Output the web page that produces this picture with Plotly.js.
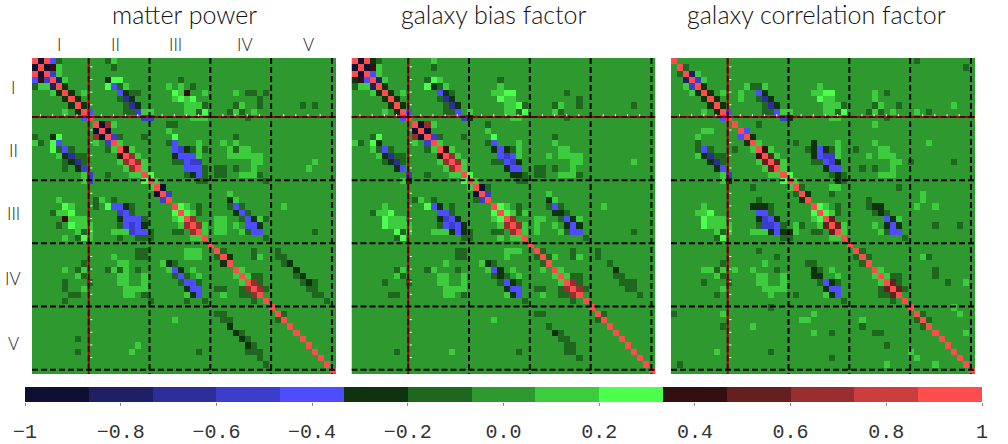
<!DOCTYPE html>
<html>
<head>
<meta charset="utf-8">
<script src="https://cdn.plot.ly/plotly-3.0.1.min.js"></script>
<style>html,body{margin:0;padding:0;background:#fff}</style>
</head>
<body>
<div id="chart" style="width:1008px;height:444px"></div>
<script>
//15 colour levels, a..o, "." cells are the base level h
const levelColors = ['#0f0f33','#1f1f66','#2e2e99','#3d3dcc','#4d4dff','#0f330f','#1f661f','#2e992e','#3dcc3d','#4dff4d','#330f0f','#661f1f','#992e2e','#cc3d3d','#ff4d4d'];
const levelValues = [-0.933,-0.8,-0.667,-0.533,-0.4,-0.267,-0.133,0,0.133,0.267,0.4,0.533,0.667,0.8,0.933];
const levelEdges = [-1,-0.867,-0.733,-0.6,-0.467,-0.333,-0.2,-0.067,0.067,0.2,0.333,0.467,0.6,0.733,0.867,1];

const panelTitles = ['matter power','galaxy bias factor','galaxy correlation factor'];
const binLabels = ['I','II','III','IV','V'];
const barTicks = [-1,-0.8,-0.6,-0.4,-0.2,0,0.2,0.4,0.6,0.8,1];
const barTickText = ['\u22121','\u22120.8','\u22120.6','\u22120.4','\u22120.2','0.0','0.2','0.4','0.6','0.8','1'];

//upper triangle of each symmetric matrix: one string per row, "startcolumn:levels"
const matterPower = [
 '0:oaoeg,12:gi','1:oaki,13:g','2:odi','3:obi,12:fjj,24:g','4:of,12:jegi,22:i,24:i,26:g',
 '5:of,8:i,14:efgg,23:jik,28:i,33:i,35:gg,38:g','6:of,14:gcf,23:ijij,37:g','7:of,15:gcf,25:iiig,33:gi,37:g,44:g,46:g','8:oe,15:ggdii,25:iigj,32:gig,36:i','9:o,18:dd,26:iii,35:g',
 '10:oami,22:gg','11:oa,22:i','12:odg,18:g,23:j,33:g','13:oi,22:ge,27:i,31:i,33:i','14:oki,23:edfgig,32:i,33:g,34:ii',
 '15:omi,23:feeei,32:iiiiii','16:omi,23:gg,25:edd,36:ii,46:i','17:oi,25:eee,28:g,30:gg,33:g,36:i,45:i','18:oj,25:gfeg,30:gg,34:iii,37:g','19:oi,27:gg,38:g',
 '20:oa','21:od,32:i','22:o,32:f,33:i','23:oji,27:g,32:geg,41:i','24:oji,27:g,33:feg',
 '25:om,30:ii,34:gefi,38:g','26:om,28:i,30:ii,33:i,35:eef','27:oi,30:ii,34:ig,36:ee,46:g','28:o,38:g','29:o',
 '30:og,36:g,40:g','31:of,36:g,37:i,40:gg','32:o,41:gf','33:oi,43:f','34:oi,36:gg,43:gf',
 '35:om,37:g,44:gfg','36:om,38:g,45:gg','37:o,46:gg','38:o,48:g','39:o',
 '40:og','41:o','42:o','43:o','44:o','45:o','46:o','47:o','48:o','49:o'
];
const galaxyBias = [
 '0:oaofg,13:i','1:oaki,13:g','2:oei','3:obi,12:gji,24:g','4:of,12:jfgi,24:i',
 '5:of,8:i,14:efg,23:iijj,35:g','6:of,14:gcf,24:jii,37:g','7:of,15:gcf,25:iijg,33:gi,37:g,46:g','8:oe,15:gge,19:i,25:iigj,33:ig','9:o,18:df,26:ii,35:g',
 '10:oami,22:g','11:oa,22:i','12:odg,18:g,23:j,33:g','13:oi,22:ge,27:i,33:i','14:oki,23:fefgi,34:ii',
 '15:omi,24:edei,32:i,34:iiii','16:omi,23:gg,25:edf,36:ii,46:i','17:oi,25:fee,30:gg,33:g,36:i','18:oj,26:ffg,30:gg,34:iii,37:g','19:oi,27:gg',
 '20:oag','21:od,32:i','22:o,32:f,33:i','23:oji,27:g,32:geg,41:i','24:oji,27:gi,33:ffg',
 '25:om,30:ii,34:gefi','26:om,28:i,30:i,33:i,35:fef','27:oi,30:i,34:ig,36:ee,46:g','28:o,38:g','29:o',
 '30:og,36:g,40:g','31:og,33:i,36:g,37:i,40:g','32:o,42:g','33:oi,43:f','34:oi,36:gg,43:gg',
 '35:om,37:g,44:ggg','36:om,38:g,45:gg','37:o,47:g','38:o','39:o',
 '40:og','41:o','42:o','43:o','44:o','45:o','46:o','47:o','48:o','49:o'
];
const galaxyCorrelation = [
 '0:o,40:g','1:og,48:g','2:obi','3:odi','4:of,12:iggi,24:i',
 '5:of,8:i,11:i,14:ef,23:iijj,33:i,35:g','6:of,11:i,14:gcf,24:jii,33:i','7:of,15:gcf,25:iiig,33:gi,37:g,46:i','8:oe,15:gge,18:ii,25:iigj,32:gig,36:i,40:i,42:g','9:o,18:df,26:ii,35:g',
 '10:o,14:g,33:i','11:oe','12:of','13:oi,20:g,23:f,27:i,33:i,42:i','14:oki,22:gfefgi,30:g,34:ii',
 '15:oli,23:feddi,32:i,34:iii','16:oli,23:gg,25:edf,36:ii,39:g,46:g','17:oi,25:fee,31:g,33:g,36:i','18:oj,26:gfg,34:iii','19:oi,27:fg',
 '20:og,26:ii,37:g','21:of,26:g,41:i','22:o,32:g,41:i','23:oji,27:g,32:gff,40:i,43:i','24:oji,27:g,33:gfg',
 '25:ol,35:efi','26:ol,28:i,33:i,35:fef,43:g,47:g','27:oi,34:ig,36:ee','28:o,38:g','29:o',
 '30:og','31:og,41:ig','32:o','33:oi,43:g','34:oi,36:gg,43:g',
 '35:ol,37:g,45:g,48:i','36:ol,38:g','37:o','38:o','39:o,46:i',
 '40:og,47:i','41:og','42:o','43:o,48:i','44:o','45:o','46:o','47:o','48:o','49:o'
];
const panelData = [matterPower, galaxyBias, galaxyCorrelation];

//bin boundaries and small white marks, in cell units
const binLines = [9.33,19.33,29.33,39.33,49.33];
const markCells = [1.4,3.4,5.4,7.4,11.4,13.4,15.4,17.4,21.4,23.4,25.4,27.4,31.4,33.4,35.4,37.4,41.4,43.4,45.4,47.4];
const binCentersX = [59,115,175,245,308];
const binCentersY = [88,150,213,278,343];

function decode(rows){
  const z = rows.map(()=>rows.map(()=>0));
  rows.forEach((row,r)=>{
    row.split(',').forEach(part=>{
      const [start,letters] = part.split(':');
      [...letters].forEach((ch,i)=>{
        const c = +start+i;
        const v = levelValues[ch.charCodeAt(0)-97];
        z[r][c] = v;
        z[c][r] = v;
      });
    });
  });
  return z;
}

const W = 1008, H = 444;
const px = x => x/W;
const py = y => 1-y/H;
const scale = [];
levelColors.forEach((c,i)=>{ scale.push([i/15,c]); scale.push([(i+1)/15,c]); });

const panelLeft = [32,351.5,671];
const panelRight = [336,655.5,975];
const panelTop = 58, panelBottom = 374;

const cells = [...Array(50).keys()].map(i=>i+0.5);
const traces = [];
const shapes = [];
const annotations = [];
const layout = {
  width: W, height: H,
  margin: {l:0,r:0,t:0,b:0},
  paper_bgcolor: '#fff', plot_bgcolor: '#fff',
  showlegend: false
};

panelData.forEach((rows,p)=>{
  const sfx = p===0 ? '' : String(p+1);
  traces.push({type:'heatmap', x:cells, y:cells, z:decode(rows), colorscale:scale, zmin:-1, zmax:1,
    showscale:false, hoverinfo:'skip', xaxis:'x'+sfx, yaxis:'y'+sfx});
  layout['xaxis'+sfx] = {domain:[px(panelLeft[p]),px(panelRight[p])], range:[0,50], visible:false, anchor:'y'+sfx, fixedrange:true};
  layout['yaxis'+sfx] = {domain:[py(panelBottom),py(panelTop)], range:[50,0], visible:false, anchor:'x'+sfx, fixedrange:true};
  const xr = 'x'+sfx, yr = 'y'+sfx;
  //first bin boundary has a red line under the dashes
  shapes.push({type:'line',xref:xr,yref:yr,x0:binLines[0],x1:binLines[0],y0:0,y1:50,line:{color:'#b30000',width:2}});
  shapes.push({type:'line',xref:xr,yref:yr,x0:0,x1:50,y0:binLines[0],y1:binLines[0],line:{color:'#b30000',width:2}});
  binLines.forEach((b,i)=>{
    const dash = i===0 ? 'rgba(50,0,0,0.75)' : '#000';
    shapes.push({type:'line',xref:xr,yref:yr,x0:b,x1:b,y0:0,y1:50,line:{color:dash,width:2,dash:'6px,3px'}});
    shapes.push({type:'line',xref:xr,yref:yr,x0:0,x1:50,y0:b,y1:b,line:{color:dash,width:2,dash:'6px,3px'}});
  });
  markCells.forEach(m=>{
    shapes.push({type:'line',xref:xr,yref:yr,x0:binLines[0]+0.25,x1:binLines[0]+0.6,y0:m,y1:m,line:{color:'#fff',width:1}});
    shapes.push({type:'line',xref:xr,yref:yr,x0:m,x1:m,y0:binLines[0]-0.45,y1:binLines[0]-0.1,line:{color:'#fff',width:1}});
  });
});

const titleCenters = [184,494,816];
panelTitles.forEach((t,i)=>{
  annotations.push({text:t,xref:'paper',yref:'paper',x:px(titleCenters[i]),y:py(14),xanchor:'center',yanchor:'middle',showarrow:false,
    font:{family:'Lato, sans-serif',size:25,color:'#111',weight:300}});
});
binLabels.forEach((t,i)=>{
  annotations.push({text:t,xref:'paper',yref:'paper',x:px(binCentersX[i]),y:py(45),xanchor:'center',yanchor:'middle',showarrow:false,
    font:{family:'Lato, sans-serif',size:17,color:'#222',weight:300}});
  annotations.push({text:t,xref:'paper',yref:'paper',x:px(13),y:py(binCentersY[i]),xanchor:'center',yanchor:'middle',showarrow:false,
    font:{family:'Lato, sans-serif',size:17,color:'#222',weight:300}});
});

//colour bar
traces.push({type:'heatmap', x:levelEdges, y:[0,1], z:[levelValues], colorscale:scale, zmin:-1, zmax:1,
  showscale:false, hoverinfo:'skip', xaxis:'x4', yaxis:'y4'});
layout.xaxis4 = {domain:[px(25),px(982)], range:[-1,1], anchor:'y4', tickmode:'array', tickvals:barTicks, ticktext:barTickText,
  ticks:'outside', ticklen:3, tickwidth:1, tickcolor:'#888', showgrid:false, zeroline:false, showline:false, ticklabelstandoff:8,
  tickangle:0, tickfont:{family:'Liberation Mono, monospace',size:20,color:'#333'}, fixedrange:true};
layout.yaxis4 = {domain:[py(402),py(387)], range:[0,1], visible:false, anchor:'x4', fixedrange:true};

layout.shapes = shapes;
layout.annotations = annotations;

Plotly.newPlot('chart', traces, layout, {displayModeBar:false, staticPlot:true});
</script>
</body>
</html>
